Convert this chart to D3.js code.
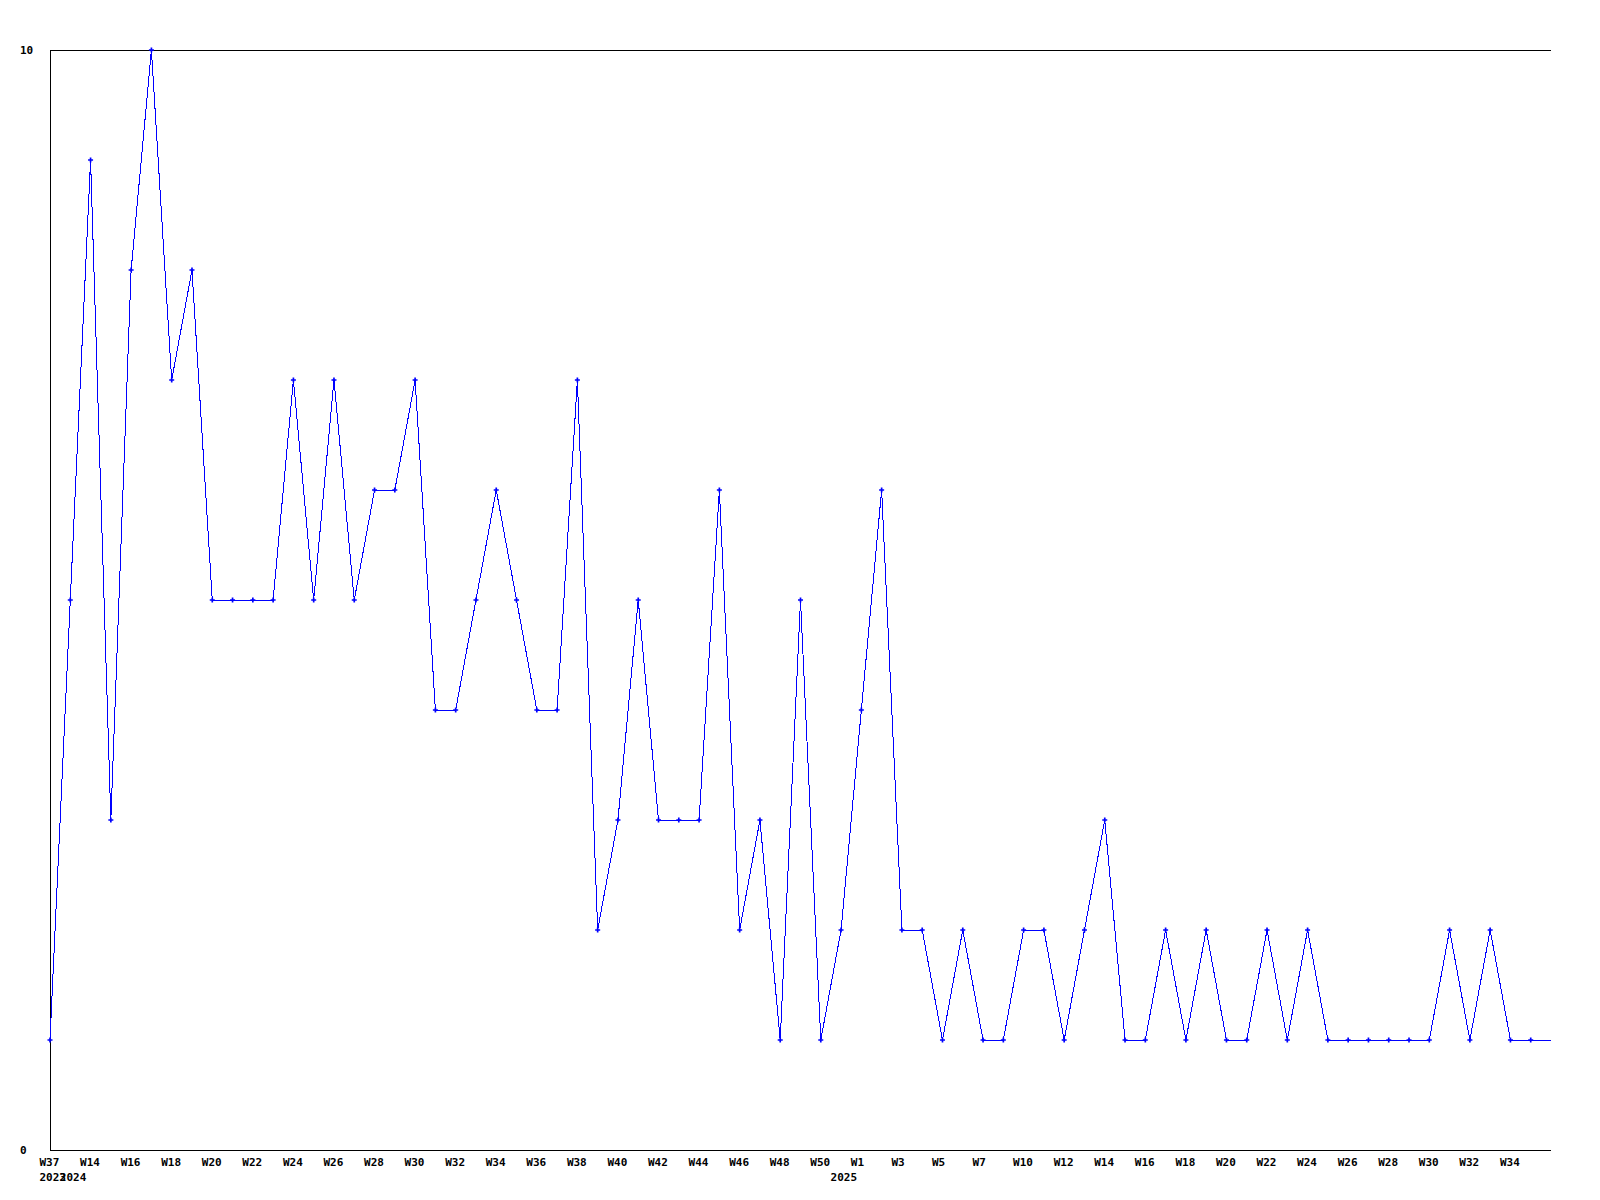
<!DOCTYPE html>
<html>
<head>
<meta charset="utf-8">
<script src="https://cdn.jsdelivr.net/npm/d3@7"></script>
<style>
  body { margin: 0; background: #fff; }
  text { font-family: "DejaVu Sans Mono", monospace; font-weight: bold; font-size: 11px; }
</style>
</head>
<body>
<svg width="1600" height="1200"></svg>
<script>
var svg = d3.select("svg"),
    width = +svg.attr("width"),
    height = +svg.attr("height");

// weekly categories, in order (only weeks that have data)
var weeks = ["W37", "W13", "W14", "W15", "W16", "W17", "W18", "W19", "W20", "W21",
  "W22", "W23", "W24", "W25", "W26", "W27", "W28", "W29", "W30", "W31",
  "W32", "W33", "W34", "W35", "W36", "W37", "W38", "W39", "W40", "W41",
  "W42", "W43", "W44", "W45", "W46", "W47", "W48", "W49", "W50", "W51",
  "W1", "W2", "W3", "W4", "W5", "W6", "W7", "W9", "W10", "W11",
  "W12", "W13", "W14", "W15", "W16", "W17", "W18", "W19", "W20", "W21",
  "W22", "W23", "W24", "W25", "W26", "W27", "W28", "W29", "W30", "W31",
  "W32", "W33", "W34", "W35"];

var counts = [1, 5, 9, 3, 8, 10, 7, 8, 5, 5,
  5, 5, 7, 5, 7, 5, 6, 6, 7, 4,
  4, 5, 6, 5, 4, 4, 7, 2, 3, 5,
  3, 3, 3, 6, 2, 3, 1, 5, 1, 2,
  4, 6, 2, 2, 1, 2, 1, 1, 2, 2,
  1, 2, 3, 1, 1, 2, 1, 2, 1, 1,
  2, 1, 2, 1, 1, 1, 1, 1, 1, 2,
  1, 2, 1, 1];

// year labels: [category index, text]
var yearLabels = [[0, "2023"], [1, "2024"], [39, "2025"]];

var yTicks = [0, 10];

var plotLeft = 50, plotRight = 1551, plotTop = 50, plotBottom = 1150;

var x = d3.scaleLinear().domain([0, weeks.length]).range([plotLeft, plotRight]);
var y = d3.scaleLinear().domain([0, 10]).range([plotBottom, plotTop]);

// frame: top, left, bottom
var frame = svg.append("g")
    .attr("stroke", "#000")
    .attr("shape-rendering", "crispEdges");
frame.append("line").attr("x1", plotLeft).attr("x2", plotRight).attr("y1", y(10)).attr("y2", y(10));
frame.append("line").attr("x1", plotLeft).attr("x2", plotLeft).attr("y1", y(10)).attr("y2", y(0));
frame.append("line").attr("x1", plotLeft).attr("x2", plotRight).attr("y1", y(0)).attr("y2", y(0));

svg.append("g").selectAll("text")
    .data(yTicks)
    .enter().append("text")
      .attr("x", 20)
      .attr("y", function(d) { return y(d) + 4; })
      .text(function(d) { return d; });

svg.append("g").selectAll("text")
    .data(weeks.map(function(w, i) { return [i, w]; }).filter(function(d) { return d[0] % 2 == 0; }))
    .enter().append("text")
      .attr("x", function(d) { return x(d[0]) - 10.5; })
      .attr("y", plotBottom + 16)
      .text(function(d) { return d[1]; });

svg.append("g").selectAll("text")
    .data(yearLabels)
    .enter().append("text")
      .attr("x", function(d) { return x(d[0]) - 10.5; })
      .attr("y", plotBottom + 31)
      .text(function(d) { return d[1]; });

// series line, carried flat to the right edge
var pts = counts.map(function(v, i) { return [x(i), y(v)]; });
pts.push([x.range()[1], y(counts[counts.length - 1])]);

svg.append("path")
    .attr("d", d3.line()(pts))
    .attr("fill", "none")
    .attr("stroke", "#0000ff")
    .attr("stroke-width", 1)
    .attr("shape-rendering", "crispEdges");

svg.append("g").selectAll("path")
    .data(counts)
    .enter().append("path")
      .attr("transform", function(d, i) { return "translate(" + x(i) + "," + y(d) + ")"; })
      .attr("d", d3.symbol().type(d3.symbolCross).size(14))
      .attr("fill", "#0000ff");
</script>
</body>
</html>
